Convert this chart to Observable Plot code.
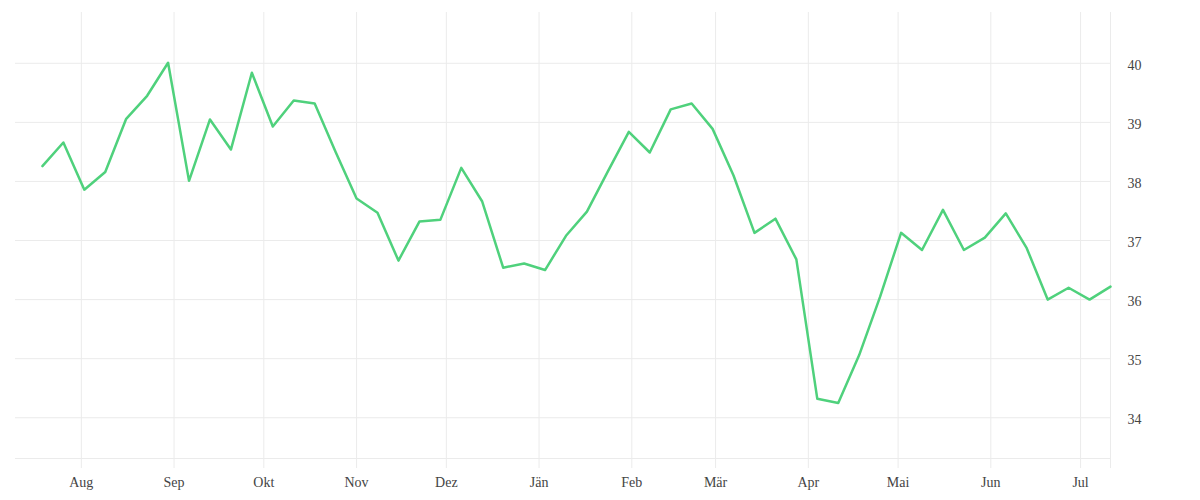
<!DOCTYPE html>
<html>
<head>
<meta charset="utf-8">
<script src="https://cdn.jsdelivr.net/npm/d3@7"></script>
<script src="https://cdn.jsdelivr.net/npm/@observablehq/plot@0.6"></script>
<style>
  html, body { margin: 0; padding: 0; background: #fff; }
  #chart svg { display: block; }
</style>
</head>
<body>
<div id="chart"></div>
<script>
const dates = [
  "2018-07-19","2018-07-26","2018-08-02","2018-08-09","2018-08-16","2018-08-23","2018-08-30",
  "2018-09-06","2018-09-13","2018-09-20","2018-09-27","2018-10-04","2018-10-11","2018-10-18",
  "2018-10-25","2018-11-01","2018-11-08","2018-11-15","2018-11-22","2018-11-29","2018-12-06",
  "2018-12-13","2018-12-20","2018-12-27","2019-01-03","2019-01-10","2019-01-17","2019-01-24",
  "2019-01-31","2019-02-07","2019-02-14","2019-02-21","2019-02-28","2019-03-07","2019-03-14",
  "2019-03-21","2019-03-28","2019-04-04","2019-04-11","2019-04-18","2019-04-25","2019-05-02",
  "2019-05-09","2019-05-16","2019-05-23","2019-05-30","2019-06-06","2019-06-13","2019-06-20",
  "2019-06-27","2019-07-04","2019-07-11"
];
const values = [
  38.26, 38.66, 37.86, 38.16, 39.06, 39.45, 40.01,
  38.01, 39.05, 38.54, 39.84, 38.93, 39.37, 39.32,
  38.50, 37.71, 37.47, 36.66, 37.32, 37.35, 38.23,
  37.66, 36.54, 36.61, 36.50, 37.08, 37.49, 38.17,
  38.84, 38.49, 39.22, 39.32, 38.89, 38.10, 37.13,
  37.37, 36.68, 34.32, 34.25, 35.06, 36.05, 37.13,
  36.84, 37.52, 36.84, 37.05, 37.46, 36.87, 36.00,
  36.20, 36.00, 36.22
];
const monthTicks = [
  "2018-08-01","2018-09-01","2018-10-01","2018-11-01","2018-12-01","2019-01-01",
  "2019-02-01","2019-03-01","2019-04-01","2019-05-01","2019-06-01","2019-07-01"
];
const monthLabels = ["Aug","Sep","Okt","Nov","Dez","Jän","Feb","Mär","Apr","Mai","Jun","Jul"];
const yTicks = [34, 35, 36, 37, 38, 39, 40];
const xDomain = ["2018-07-10", "2019-07-11"];
const yDomain = [33.31, 40.86];

const parse = d3.utcParse("%Y-%m-%d");
const data = dates.map((d, i) => ({date: parse(d), value: values[i]}));
const tickDates = monthTicks.map(parse);
const xDom = xDomain.map(parse);
const gridDates = tickDates.concat([xDom[1]]);

const chart = Plot.plot({
  width: 1200,
  height: 500,
  marginLeft: 15,
  marginRight: 90,
  marginTop: 12,
  marginBottom: 42,
  style: {fontFamily: "'Liberation Serif', serif", fontSize: "14px", color: "#444", background: "#fff"},
  x: {type: "utc", domain: xDom, label: null},
  y: {domain: yDomain, label: null},
  marks: [
    Plot.gridY(yTicks, {stroke: "#ebebeb", strokeOpacity: 1}),
    Plot.ruleY([yDomain[0]], {stroke: "#ebebeb", strokeWidth: 1}),
    Plot.gridX(gridDates, {stroke: "#ebebeb", strokeOpacity: 1, insetBottom: -10}),
    Plot.axisX(tickDates, {tickSize: 0, tickPadding: 19, label: null, tickFormat: (d, i) => monthLabels[i], fill: "#444"}),
    Plot.axisY(yTicks, {anchor: "right", tickSize: 0, tickPadding: 17, label: null, textAnchor: "start", dy: 2, tickFormat: d => String(d), fill: "#444"}),
    Plot.lineY(data, {x: "date", y: "value", stroke: "#4fd17c", strokeWidth: 2.5})
  ]
});
document.getElementById("chart").appendChild(chart);
</script>
</body>
</html>
